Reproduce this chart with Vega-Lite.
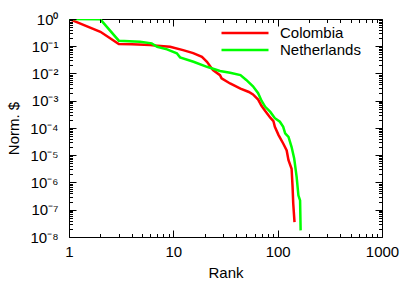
{
  "$schema": "https://vega.github.io/schema/vega-lite/v6.json",
  "width": 313,
  "height": 218,
  "autosize": {"type": "none"},
  "padding": {"left": 69, "top": 19, "right": 29, "bottom": 51},
  "config": {
    "font": "Liberation Sans",
    "view": {"stroke": "black", "strokeWidth": 1},
    "axis": {
      "domainColor": "black", "tickColor": "black", "labelColor": "black", "titleColor": "black",
      "labelFontSize": 15, "titleFontSize": 15, "titleFontWeight": "normal", "grid": false,
      "ticks": true, "tickWidth": 1, "tickOpacity": 1, "labelFont": "Liberation Sans", "titleFont": "Liberation Sans"
    }
  },
  "data": {"values": [
    {"country": "Colombia", "rank": 1, "value": 1},
    {"country": "Colombia", "rank": 2, "value": 0.34},
    {"country": "Colombia", "rank": 3, "value": 0.12},
    {"country": "Colombia", "rank": 4, "value": 0.118},
    {"country": "Colombia", "rank": 6, "value": 0.11},
    {"country": "Colombia", "rank": 7, "value": 0.105},
    {"country": "Colombia", "rank": 9.3, "value": 0.096},
    {"country": "Colombia", "rank": 12.4, "value": 0.072},
    {"country": "Colombia", "rank": 15.5, "value": 0.056},
    {"country": "Colombia", "rank": 18.8, "value": 0.041},
    {"country": "Colombia", "rank": 21, "value": 0.027},
    {"country": "Colombia", "rank": 24, "value": 0.0133},
    {"country": "Colombia", "rank": 28, "value": 0.0087},
    {"country": "Colombia", "rank": 29, "value": 0.0066},
    {"country": "Colombia", "rank": 35, "value": 0.0043},
    {"country": "Colombia", "rank": 44, "value": 0.0028},
    {"country": "Colombia", "rank": 53, "value": 0.0021},
    {"country": "Colombia", "rank": 58, "value": 0.0017},
    {"country": "Colombia", "rank": 65, "value": 0.0011},
    {"country": "Colombia", "rank": 70, "value": 0.00065},
    {"country": "Colombia", "rank": 76, "value": 0.00042},
    {"country": "Colombia", "rank": 85, "value": 0.00024},
    {"country": "Colombia", "rank": 91, "value": 0.00018},
    {"country": "Colombia", "rank": 94, "value": 0.00011},
    {"country": "Colombia", "rank": 102, "value": 0.000055},
    {"country": "Colombia", "rank": 113, "value": 0.000027},
    {"country": "Colombia", "rank": 122, "value": 0.000015},
    {"country": "Colombia", "rank": 127, "value": 0.0000066},
    {"country": "Colombia", "rank": 136, "value": 0.0000032},
    {"country": "Colombia", "rank": 139, "value": 0.00000068},
    {"country": "Colombia", "rank": 141, "value": 0.00000017},
    {"country": "Colombia", "rank": 145, "value": 0.000000035},
    {"country": "Netherlands", "rank": 1, "value": 1},
    {"country": "Netherlands", "rank": 2, "value": 0.97},
    {"country": "Netherlands", "rank": 3, "value": 0.16},
    {"country": "Netherlands", "rank": 4.8, "value": 0.146},
    {"country": "Netherlands", "rank": 6.2, "value": 0.128},
    {"country": "Netherlands", "rank": 7, "value": 0.096},
    {"country": "Netherlands", "rank": 8.7, "value": 0.077},
    {"country": "Netherlands", "rank": 10.8, "value": 0.055},
    {"country": "Netherlands", "rank": 11.6, "value": 0.039},
    {"country": "Netherlands", "rank": 15.6, "value": 0.027},
    {"country": "Netherlands", "rank": 21, "value": 0.0176},
    {"country": "Netherlands", "rank": 28, "value": 0.0123},
    {"country": "Netherlands", "rank": 35, "value": 0.0106},
    {"country": "Netherlands", "rank": 44, "value": 0.0087},
    {"country": "Netherlands", "rank": 50, "value": 0.0058},
    {"country": "Netherlands", "rank": 58, "value": 0.0034},
    {"country": "Netherlands", "rank": 65, "value": 0.0019},
    {"country": "Netherlands", "rank": 70, "value": 0.001},
    {"country": "Netherlands", "rank": 76, "value": 0.0006},
    {"country": "Netherlands", "rank": 85, "value": 0.00039},
    {"country": "Netherlands", "rank": 94, "value": 0.00023},
    {"country": "Netherlands", "rank": 105, "value": 0.00017},
    {"country": "Netherlands", "rank": 113, "value": 0.00011},
    {"country": "Netherlands", "rank": 118, "value": 0.000063},
    {"country": "Netherlands", "rank": 127, "value": 0.000047},
    {"country": "Netherlands", "rank": 136, "value": 0.00002},
    {"country": "Netherlands", "rank": 144, "value": 0.0000076},
    {"country": "Netherlands", "rank": 152, "value": 0.0000016},
    {"country": "Netherlands", "rank": 158, "value": 0.00000034},
    {"country": "Netherlands", "rank": 164, "value": 0.00000022},
    {"country": "Netherlands", "rank": 166, "value": 0.0000000175}
  ]},
  "layer": [
    {
      "mark": {"type": "line", "strokeWidth": 2.5, "clip": true},
      "encoding": {
        "x": {
          "field": "rank", "type": "quantitative",
          "scale": {"type": "log", "domain": [1, 1000], "nice": false},
          "axis": {
            "orient": "bottom", "title": "Rank", "titlePadding": 6, "domain": false, "ticks": true,
            "tickColor": "black", "tickOpacity": 1, "tickWidth": 1, "zindex": 2,
            "values": [1, 10, 100, 1000], "format": "d", "offset": -7,
            "tickSize": 7, "labelPadding": 7, "labelFlush": false, "labelOverlap": false
          }
        },
        "y": {
          "field": "value", "type": "quantitative",
          "scale": {"type": "log", "domain": [1e-8, 1], "nice": false},
          "axis": {
            "orient": "left", "title": "Norm. $", "titlePadding": 8, "domain": false, "ticks": true,
            "tickColor": "black", "tickOpacity": 1, "tickWidth": 1, "zindex": 2,
            "values": [1e-8, 1e-7, 1e-6, 1e-5, 1e-4, 0.001, 0.01, 0.1, 1], "offset": -7,
            "labelExpr": "['10⁰','10⁻¹','10⁻²','10⁻³','10⁻⁴','10⁻⁵','10⁻⁶','10⁻⁷','10⁻⁸'][-round(log(datum.value)/LN10)]",
            "tickSize": 7, "labelPadding": 11, "labelFlush": false, "labelOverlap": false
          }
        },
        "color": {
          "field": "country", "type": "nominal",
          "scale": {"domain": ["Colombia", "Netherlands"], "range": ["#ff0000", "#00ff00"]},
          "legend": {
            "title": null, "orient": "none", "legendX": 151, "legendY": 5.5,
            "labelFontSize": 15, "labelFont": "Liberation Sans", "labelColor": "black",
            "labelAlign": "left", "labelOffset": 10,
            "symbolSize": 2209, "symbolStrokeWidth": 2.5, "symbolType": "stroke", "symbolOpacity": 1,
            "clipHeight": 17, "rowPadding": 0, "padding": 0, "labelLimit": 200
          }
        }
      }
    },
    {
      "mark": {"type": "point", "opacity": 0},
      "encoding": {
        "x": {
          "field": "rank", "type": "quantitative",
          "scale": {"type": "log", "domain": [1, 1000], "nice": false},
          "axis": {"orient": "top", "title": null, "labels": false, "domain": false, "ticks": true, "offset": -7,
            "tickColor": "black", "tickOpacity": 1, "tickWidth": 1, "zindex": 2,
            "values": [1, 10, 100, 1000], "tickSize": 7}
        },
        "y": {
          "field": "value", "type": "quantitative",
          "scale": {"type": "log", "domain": [1e-8, 1], "nice": false},
          "axis": {"orient": "right", "title": null, "labels": false, "domain": false, "ticks": true, "offset": -7,
            "tickColor": "black", "tickOpacity": 1, "tickWidth": 1, "zindex": 2,
            "values": [1e-8, 1e-7, 1e-6, 1e-5, 1e-4, 0.001, 0.01, 0.1, 1], "tickSize": 7}
        }
      }
    },
    {
      "mark": {"type": "point", "opacity": 0},
      "encoding": {
        "x": {
          "field": "rank", "type": "quantitative",
          "scale": {"type": "log", "domain": [1, 1000], "nice": false},
          "axis": {"orient": "bottom", "title": null, "labels": false, "domain": false, "ticks": true, "offset": -3.5,
            "tickColor": "black", "tickOpacity": 1, "tickWidth": 1, "zindex": 2,
            "values": [2,3,4,5,6,7,8,9,20,30,40,50,60,70,80,90,200,300,400,500,600,700,800,900], "tickSize": 3.5}
        },
        "y": {
          "field": "value", "type": "quantitative",
          "scale": {"type": "log", "domain": [1e-8, 1], "nice": false},
          "axis": {"orient": "left", "title": null, "labels": false, "domain": false, "ticks": true, "offset": -3.5,
            "tickColor": "black", "tickOpacity": 1, "tickWidth": 1, "zindex": 2,
            "values": [2e-8,3e-8,4e-8,5e-8,6e-8,7e-8,8e-8,9e-8,2e-7,3e-7,4e-7,5e-7,6e-7,7e-7,8e-7,9e-7,2e-6,3e-6,4e-6,5e-6,6e-6,7e-6,8e-6,9e-6,2e-5,3e-5,4e-5,5e-5,6e-5,7e-5,8e-5,9e-5,2e-4,3e-4,4e-4,5e-4,6e-4,7e-4,8e-4,9e-4,0.002,0.003,0.004,0.005,0.006,0.007,0.008,0.009,0.02,0.03,0.04,0.05,0.06,0.07,0.08,0.09,0.2,0.3,0.4,0.5,0.6,0.7,0.8,0.9], "tickSize": 3.5}
        }
      }
    },
    {
      "mark": {"type": "point", "opacity": 0},
      "encoding": {
        "x": {
          "field": "rank", "type": "quantitative",
          "scale": {"type": "log", "domain": [1, 1000], "nice": false},
          "axis": {"orient": "top", "title": null, "labels": false, "domain": false, "ticks": true, "offset": -3.5,
            "tickColor": "black", "tickOpacity": 1, "tickWidth": 1, "zindex": 2,
            "values": [2,3,4,5,6,7,8,9,20,30,40,50,60,70,80,90,200,300,400,500,600,700,800,900], "tickSize": 3.5}
        },
        "y": {
          "field": "value", "type": "quantitative",
          "scale": {"type": "log", "domain": [1e-8, 1], "nice": false},
          "axis": {"orient": "right", "title": null, "labels": false, "domain": false, "ticks": true, "offset": -3.5,
            "tickColor": "black", "tickOpacity": 1, "tickWidth": 1, "zindex": 2,
            "values": [2e-8,3e-8,4e-8,5e-8,6e-8,7e-8,8e-8,9e-8,2e-7,3e-7,4e-7,5e-7,6e-7,7e-7,8e-7,9e-7,2e-6,3e-6,4e-6,5e-6,6e-6,7e-6,8e-6,9e-6,2e-5,3e-5,4e-5,5e-5,6e-5,7e-5,8e-5,9e-5,2e-4,3e-4,4e-4,5e-4,6e-4,7e-4,8e-4,9e-4,0.002,0.003,0.004,0.005,0.006,0.007,0.008,0.009,0.02,0.03,0.04,0.05,0.06,0.07,0.08,0.09,0.2,0.3,0.4,0.5,0.6,0.7,0.8,0.9], "tickSize": 3.5}
        }
      }
    }
  ],
  "resolve": {"axis": {"x": "independent", "y": "independent"}}
}
